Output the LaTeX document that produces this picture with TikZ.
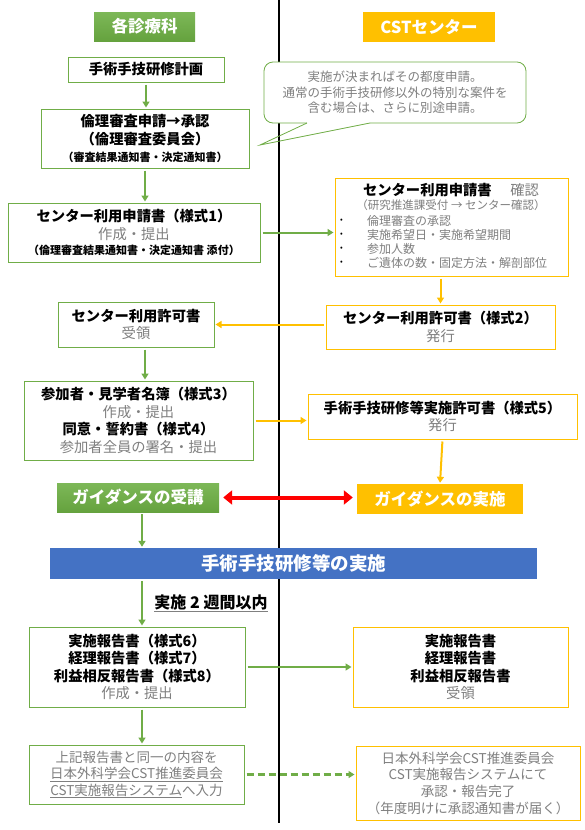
\documentclass[tikz,border=0pt]{standalone}
\usepackage{fontspec}
\setmainfont{Noto Sans CJK JP}
\usepackage{xcolor}
\usepackage{tikz}
\usetikzlibrary{arrows.meta}

\definecolor{grn}{HTML}{70AD47}
\definecolor{grntop}{HTML}{7DB858}
\definecolor{grnbot}{HTML}{65A23E}
\definecolor{ylw}{HTML}{FFC000}
\definecolor{blu}{HTML}{4472C4}
\definecolor{txtgray}{HTML}{7F7F7F}
\definecolor{redarr}{HTML}{FF0000}

\newcommand{\grtxt}[1]{{\color{txtgray}#1}}
\newcommand{\smtxt}[1]{{\fontsize{11}{14}\selectfont #1}}

\begin{document}
\begin{tikzpicture}[x=1pt, y=-1pt,
    gbox/.style={draw=grn, line width=1pt, fill=white, align=center, inner sep=0pt,
      font=\fontsize{14.3}{17.5}\selectfont},
    ybox/.style={draw=ylw, line width=1pt, fill=white, align=center, inner sep=0pt,
      font=\fontsize{14.3}{17.5}\selectfont},
    ghead/.style={top color=grntop, bottom color=grnbot, text=white, inner sep=0pt,
      font=\fontsize{16.5}{19}\selectfont\bfseries},
    yhead/.style={fill=ylw, text=white, inner sep=0pt, font=\fontsize{16.5}{19}\selectfont\bfseries},
    garrow/.style={-{Triangle[length=6pt,width=7pt]}, draw=grn, line width=2pt,
      shorten <=2pt, shorten >=1pt},
    yarrow/.style={-{Triangle[length=6pt,width=7pt]}, draw=ylw, line width=2pt,
      shorten <=2pt, shorten >=1pt},
  ]
        \useasboundingbox (0,0) rectangle (584,830);
        % divider
        \coordinate (divtop) at (279,0);
        \coordinate (divbot) at (279,823);
        \draw[line width=1.5pt] (divtop) -- (divbot);

        % column heads
        \node[ghead, minimum width=101pt, minimum height=29pt] (dept) at (144.5,26.5) {各診療科};
        \node[yhead, minimum width=132pt, minimum height=30pt] (cst) at (429,27) {CSTセンター};

        % left column, upper part
        \node[gbox, minimum width=156pt, minimum height=25pt] (plan) at (146,69.5) {\bfseries 手術手技研修計画};
        \node[gbox, minimum width=208pt, minimum height=59pt] (ethics) at (145,138.5)
            {\bfseries 倫理審査申請→承認\\\bfseries （倫理審査委員会）\\\bfseries\smtxt{（審査結果通知書・決定通知書）}};
        \node[gbox, minimum width=252pt, minimum height=59pt] (apply) at (134,232.5)
            {\bfseries センター利用申請書（様式1）\\\grtxt{作成・提出}\\[-2pt]\bfseries\smtxt{（倫理審査結果通知書・決定通知書 添付）}};

        % memo
        \node[draw=grn, line width=0.8pt, rounded corners=9pt, fill=white, minimum width=262pt,
            minimum height=61pt, align=center, inner sep=0pt, font=\fontsize{12.5}{15.5}\selectfont]
            (memo) at (395,92.5)
            {\grtxt{実施が決まればその都度申請。}\\\grtxt{通常の手術手技研修以外の特別な案件を}\\\grtxt{含む場合は、さらに別途申請。}};
        \coordinate (memotip) at (260,145);
        \draw[white, line width=1.4pt] (307,123) -- (370,123);
        \draw[grn, line width=0.8pt, line join=miter] (307,123) -- (memotip) -- (370,123);

        % right column, application check
        \node[ybox, minimum width=233pt, minimum height=98pt] (check) at (451.5,227) {};
        \node[font=\fontsize{14.3}{17}\selectfont, inner sep=0pt] (check-t) at (451,190)
            {{\bfseries センター利用申請書}\hspace{1.3em}\grtxt{確認}};
        \node[font=\fontsize{11.5}{14}\selectfont, inner sep=0pt] (check-s) at (451,205)
            {\grtxt{（研究推進課受付 → センター確認）}};
        \foreach \i/\item in {1/倫理審査の承認, 2/実施希望日・実施希望期間, 3/参加人数, 4/ご遺体の数・固定方法・解剖部位} {
            \node[anchor=west, inner sep=0pt, font=\fontsize{8}{10}\selectfont] (check-d\i) at (340,207+14*\i) {•};
            \node[anchor=west, inner sep=0pt, font=\fontsize{12}{14}\selectfont] (check-b\i) at (367,207+14*\i) {\grtxt{\item}};
        }

        % permits
        \node[ybox, minimum width=229pt, minimum height=44pt] (permit2) at (440.5,327)
            {\bfseries センター利用許可書（様式2）\\\grtxt{発行}};
        \node[gbox, minimum width=156pt, minimum height=45pt] (permit) at (136,324.5)
            {\bfseries センター利用許可書\\\grtxt{受領}};
        \node[gbox, minimum width=229pt, minimum height=79pt] (roster) at (138.5,420.5)
            {\bfseries 参加者・見学者名簿（様式3）\\\grtxt{作成・提出}\\\bfseries 同意・誓約書（様式4）\\\grtxt{参加者全員の署名・提出}};
        \node[ybox, minimum width=269pt, minimum height=45pt] (permit5) at (442.5,416.5)
            {\bfseries 手術手技研修等実施許可書（様式5）\\\grtxt{発行}};

        % guidance
        \node[ghead, minimum width=162pt, minimum height=29pt] (guided) at (138,497.5) {ガイダンスの受講};
        \node[yhead, minimum width=166pt, minimum height=30pt] (guidec) at (440,499) {ガイダンスの実施};

        % training
        \node[fill=blu, text=white, inner sep=0pt, minimum width=487pt, minimum height=31pt,
            font=\fontsize{18.5}{21}\selectfont\bfseries] (train) at (293.5,563.5) {手術手技研修等の実施};
        \node[inner sep=0pt, font=\fontsize{16}{18}\selectfont\bfseries] (within) at (211,602) {実施 2 週間以内};
        \draw[gray, line width=1.5pt] ([yshift=-1.5pt]within.south west) -- ([yshift=-1.5pt]within.south east);

        % reports
        \node[gbox, minimum width=216pt, minimum height=80pt] (report) at (137,667)
            {\bfseries 実施報告書（様式6）\\\bfseries 経理報告書（様式7）\\\bfseries 利益相反報告書（様式8）\\\grtxt{作成・提出}};
        \node[ybox, minimum width=215pt, minimum height=80pt] (reportc) at (460.5,667)
            {\bfseries 実施報告書\\\bfseries 経理報告書\\\bfseries 利益相反報告書\\\grtxt{受領}};
        \node[gbox, minimum width=215pt, minimum height=59pt, font=\fontsize{13.5}{16.5}\selectfont] (input) at (136.5,774.5)
            {\color{txtgray}上記報告書と同一の内容を\\\color{txtgray}\underline{日本外科学会CST推進委員会}\\\color{txtgray}\underline{CST実施報告システム}へ入力};
        \node[ybox, minimum width=224pt, minimum height=74pt, font=\fontsize{13.5}{16.7}\selectfont] (done) at (468,783)
            {\color{txtgray}日本外科学会CST推進委員会\\\color{txtgray}CST実施報告システムにて\\\color{txtgray}承認・報告完了\\\color{txtgray}（年度明けに承認通知書が届く）};

        % connectors
        \draw[garrow] (plan.south) -- (plan.south |- ethics.north);
        \draw[garrow] (ethics.south) -- (ethics.south |- apply.north);
        \draw[garrow] (apply.east) -- (apply.east -| check.west);
        \draw[yarrow] (check.south -| permit2.north) -- (permit2.north);
        \draw[yarrow] (permit2.west |- permit.east) -- (permit.east);
        \draw[garrow] ([xshift=9pt]permit.south) -- ([xshift=9pt]permit.south |- roster.north);
        \draw[yarrow] (roster.east) -- (roster.east -| permit5.west);
        \draw[yarrow] (permit5.south) -- (guidec.north);
        \draw[{Triangle[length=9pt,width=14pt]}-{Triangle[length=9pt,width=14pt]}, draw=redarr,
            line width=4pt, shorten <=4pt, shorten >=4pt] (guided.east) -- (guided.east -| guidec.west);
        \draw[garrow] ([xshift=4pt]guided.south) -- ([xshift=4pt]guided.south |- train.north);
        \draw[garrow] ([xshift=5pt]report.north |- train.south) -- ([xshift=5pt]report.north);
        \draw[garrow] (report.east) -- (report.east -| reportc.west);
        \draw[garrow] ([xshift=5pt]report.south) -- ([xshift=5pt]report.south |- input.north);
        \draw[garrow, line width=2.4pt, dash pattern=on 7pt off 4pt] (input.east) -- (input.east -| done.west);
    \end{tikzpicture}
\end{document}
